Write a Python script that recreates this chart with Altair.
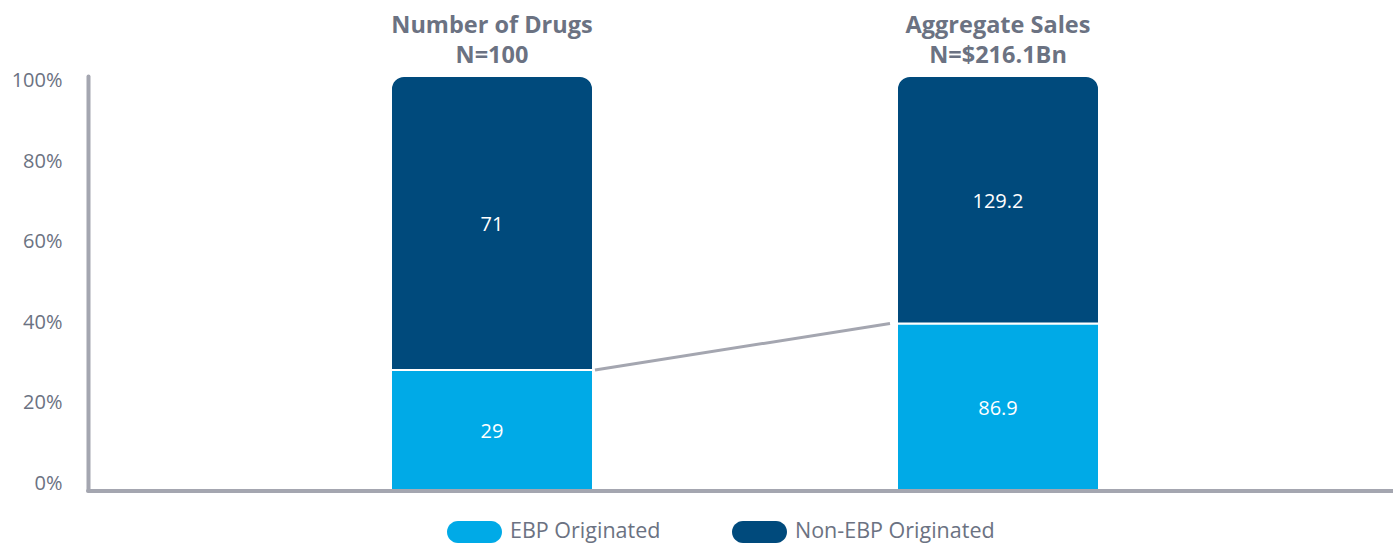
import altair as alt
import pandas as pd

# ---- data ----
groups = ["Number of Drugs|N=100", "Aggregate Sales|N=$216.1Bn"]
series = ["EBP Originated", "Non-EBP Originated"]
ebp_values = [29, 86.9]
non_ebp_values = [71, 129.2]
ebp_labels = ["29", "86.9"]
non_ebp_labels = ["71", "129.2"]
y_ticks = [0, 20, 40, 60, 80, 100]

LIGHT = "#00aae7"
DARK = "#004a7c"
GRAY_LINE = "#a4a6b0"
TEXT_GRAY = "#6b7282"
FONT = "Open Sans"

rows = []
for g, e, n, el, nl in zip(groups, ebp_values, non_ebp_values, ebp_labels, non_ebp_labels):
    tot = e + n
    p = e / tot * 100
    rows.append({"group": g, "series": series[0], "y1": 0, "y2": p, "mid": p / 2, "label": el})
    rows.append({"group": g, "series": series[1], "y1": p, "y2": 100, "mid": (p + 100) / 2, "label": nl})
df = pd.DataFrame(rows)

conn = pd.DataFrame({
    "from": [groups[0]], "to": [groups[1]],
    "a": [df.loc[0, "y2"]], "b": [df.loc[2, "y2"]],
})
ticks_df = pd.DataFrame({"tick": y_ticks})
base_df = pd.DataFrame({"k": [0]})

x_scale = alt.Scale(domain=groups, range=[303, 1011], paddingInner=0.6008, paddingOuter=0)
x_axis = alt.Axis(orient="top", title=None, domain=False, ticks=False,
                  labelExpr="split(datum.label, '|')", labelFont=FONT, labelFontSize=23.5,
                  labelFontWeight="bold", labelColor=TEXT_GRAY, labelLineHeight=30,
                  labelPadding=39, labelAngle=0, labelLimit=600)
y_scale = alt.Scale(domain=[0, 100], nice=False, zero=False)
color = alt.Color("series:N", scale=alt.Scale(domain=series, range=[LIGHT, DARK]),
                  legend=alt.Legend(title=None, orient="none", legendX=375.5, legendY=445,
                                    direction="horizontal",
                                    symbolType="M-1.5,-1 H1.5 A1,1 0 0 1 1.5,1 H-1.5 A1,1 0 0 1 -1.5,-1 Z",
                                    symbolSize=484, symbolStrokeWidth=0, symbolOpacity=1,
                                    labelOffset=24.5, columnPadding=71, labelFont=FONT,
                                    labelFontSize=21.5, labelColor=TEXT_GRAY, padding=0,
                                    labelLimit=400))
X = alt.X("group:N", scale=x_scale, axis=x_axis)

base = alt.Chart(df)
bar_top = base.transform_filter(alt.datum.series == series[1]).mark_bar(
    cornerRadiusTopLeft=13, cornerRadiusTopRight=13, stroke="white", strokeWidth=2
).encode(x=X, y=alt.Y("y1:Q", scale=y_scale, axis=None), y2="y2:Q", color=color)
bar_bot = base.transform_filter(alt.datum.series == series[0]).mark_bar(
    stroke="white", strokeWidth=2
).encode(x=X, y=alt.Y("y1:Q", scale=y_scale, axis=None), y2="y2:Q", color=color)
labels = base.mark_text(color="white", font=FONT, fontSize=20, dy=2).encode(
    x=X, y=alt.Y("mid:Q", scale=y_scale, axis=None), text="label:N")
connector = alt.Chart(conn).mark_rule(color=GRAY_LINE, strokeWidth=3, xOffset=103, x2Offset=-108).encode(
    x=alt.X("from:N", scale=x_scale, axis=x_axis), x2="to:N",
    y=alt.Y("a:Q", scale=y_scale, axis=None), y2="b:Q")
yaxis_layer = alt.Chart(ticks_df).mark_point(opacity=0).encode(
    y=alt.Y("tick:Q", scale=alt.Scale(domain=[-1.74, 101.24], nice=False, zero=False),
            axis=alt.Axis(values=y_ticks, labelExpr="datum.value + '%'", title=None,
                          ticks=False, grid=False, domainColor=GRAY_LINE, domainWidth=4,
                          domainCap="round", labelPadding=26, labelFont=FONT,
                          labelFontSize=20, labelColor=TEXT_GRAY)))
baseline = alt.Chart(base_df).mark_rule(color=GRAY_LINE, strokeWidth=4, strokeCap="round").encode(
    x=alt.value(0), x2=alt.value(1305), y=alt.value(415))

chart = alt.layer(yaxis_layer, bar_bot, bar_top, labels, connector, baseline).resolve_scale(
    y="independent"
).properties(
    width=1305, height=414,
    autosize=alt.AutoSizeParams(type="none"),
    padding={"left": 88, "top": 76, "right": 0, "bottom": 55},
    background="white",
).configure_view(stroke=None)

chart.save("out.html", embed_options={"renderer": "svg", "actions": False})
